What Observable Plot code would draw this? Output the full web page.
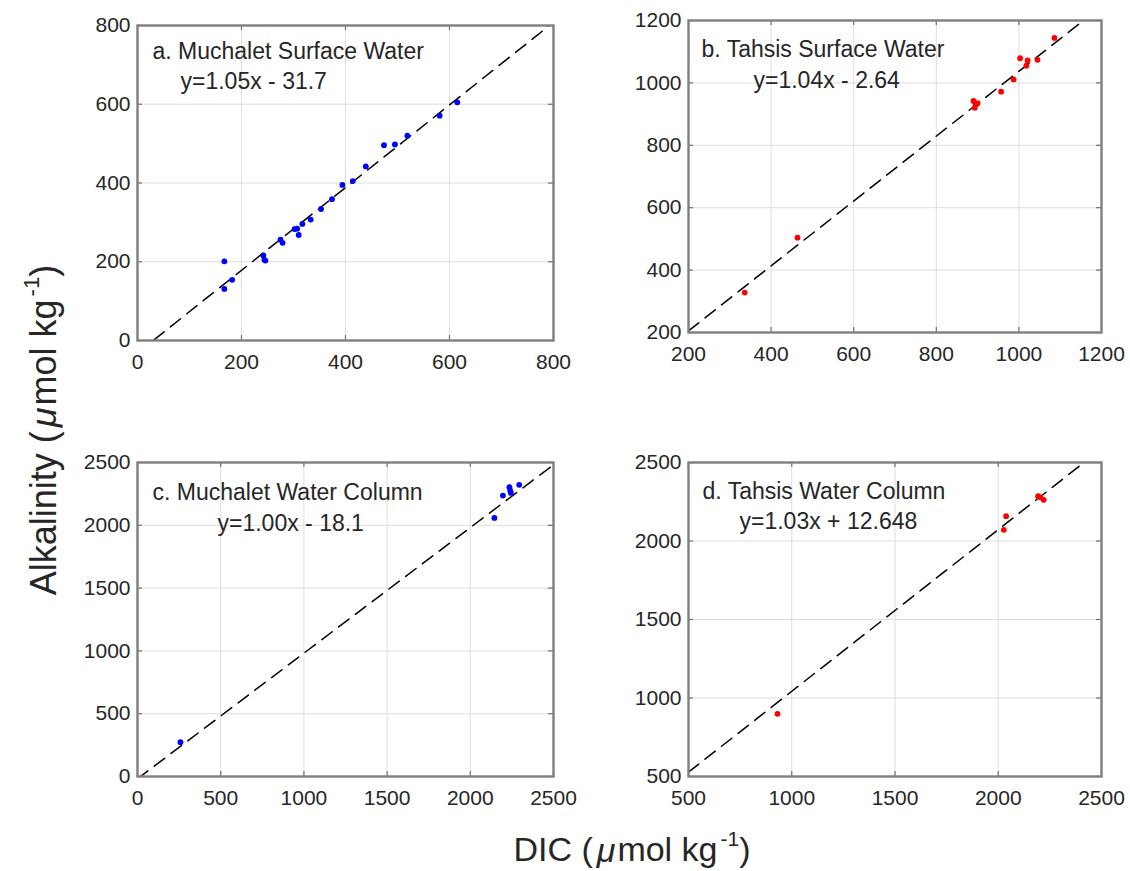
<!DOCTYPE html>
<html>
<head>
<meta charset="utf-8">
<script src="https://cdn.jsdelivr.net/npm/d3@7"></script>
<script src="https://cdn.jsdelivr.net/npm/@observablehq/plot@0.6"></script>
<style>
  html, body { margin: 0; padding: 0; background: #fff; }
  #page { position: relative; width: 1130px; height: 871px; font-family: "Liberation Sans", Arial, Helvetica, sans-serif; color: #262626; }
  .panel { position: absolute; }
  .ylab { position: absolute; left: 42px; top: 430px; transform: translate(-50%, -50%) rotate(-90deg); white-space: nowrap; font-size: 36px; }
  .xlab { position: absolute; left: 632px; top: 848px; transform: translate(-50%, -50%); white-space: nowrap; font-size: 34px; }
  .mu { font-style: italic; margin: 0 2px 0 4px; }
  sup { font-size: 0.62em; vertical-align: 0.75em; margin-left: 3px; }
</style>
</head>
<body>
<div id="page">
  <div class="ylab">Alkalinity (<span class="mu">μ</span>mol kg<sup>-1</sup>)</div>
  <div class="xlab">DIC (<span class="mu">μ</span>mol kg<sup>-1</sup>)</div>
</div>
<script>
// ---- data ----
const dicA = [167, 167, 182, 242, 244, 246, 275, 279, 302, 307, 310, 317, 333, 353, 374, 394, 414, 439, 474, 495, 519, 581, 615];
const alkA = [201, 131, 154, 216, 205, 203, 256, 248, 283, 284, 268, 296, 307, 334, 359, 395, 405, 442, 496, 498, 520, 571, 605];

const dicB = [336, 464, 890, 895, 893, 900, 957, 987, 1003, 1018, 1021, 1045, 1086];
const alkB = [328, 504, 942, 930, 920, 935, 972, 1011, 1079, 1055, 1072, 1074, 1144];

const dicC = [258, 2145, 2196, 2235, 2240, 2244, 2294];
const alkC = [273, 2059, 2237, 2303, 2275, 2258, 2322];

const dicD = [931, 2027, 2038, 2193, 2205, 2220];
const alkD = [899, 2071, 2158, 2285, 2278, 2262];

const fitSlope = [1.05, 1.04, 1.00, 1.03];
const fitIntercept = [-31.7, -2.64, -18.1, 12.648];

const panelTitles = ["a. Muchalet Surface Water", "b. Tahsis Surface Water", "c. Muchalet Water Column", "d. Tahsis Water Column"];
const equationLabels = ["y=1.05x - 31.7", "y=1.04x - 2.64", "y=1.00x - 18.1", "y=1.03x + 12.648"];

const ticksA = [0, 200, 400, 600, 800];
const ticksB = [200, 400, 600, 800, 1000, 1200];
const ticksC = [0, 500, 1000, 1500, 2000, 2500];
const ticksD = [500, 1000, 1500, 2000, 2500];

const seriesColors = ["#0000ff", "#ff0000", "#0000ff", "#ff0000"];

// ---- layout ----
const frames = [
  {x0: 137, x1: 553, y0: 25, y1: 340, tdx: 15, tdy: 17, edx: 43, edy: 47},
  {x0: 688, x1: 1101, y0: 20, y1: 332, tdx: 13, tdy: 20, edx: 65, edy: 51},
  {x0: 137, x1: 553, y0: 462, y1: 776, tdx: 15, tdy: 21, edx: 80, edy: 52},
  {x0: 688, x1: 1101, y0: 462, y1: 776, tdx: 14, tdy: 20, edx: 51, edy: 50}
];
const ML = 70, MT = 20, MR = 20, MB = 45;

function makePanel(i, dic, alk, ticks) {
  const f = frames[i];
  const fw = f.x1 - f.x0, fh = f.y1 - f.y0;
  const dom = [ticks[0], ticks[ticks.length - 1]];
  const pts = dic.map((d, k) => ({dic: d, alk: alk[k]}));
  const fit = dom.map(x => ({x, y: fitSlope[i] * x + fitIntercept[i]}));
  const txt = "#262626";
  const chart = Plot.plot({
    width: fw + ML + MR,
    height: fh + MT + MB,
    marginLeft: ML, marginTop: MT, marginRight: MR, marginBottom: MB,
    style: {fontFamily: '"Liberation Sans", Arial, Helvetica, sans-serif', fontSize: "21px", color: txt, background: "transparent", overflow: "visible"},
    x: {domain: dom},
    y: {domain: dom},
    marks: [
      Plot.gridX(ticks, {stroke: "#dedede", strokeOpacity: 1, strokeWidth: 1}),
      Plot.gridY(ticks, {stroke: "#dedede", strokeOpacity: 1, strokeWidth: 1}),
      Plot.line(fit, {x: "x", y: "y", stroke: "#000", strokeWidth: 1.5, strokeDasharray: "13,8", clip: true}),
      Plot.dot(pts, {x: "dic", y: "alk", r: 2.9, fill: seriesColors[i], stroke: "none"}),
      Plot.tickX(ticks, {x: d => d, stroke: "#6e6e6e", strokeWidth: 1.2, insetTop: fh - 5}),
      Plot.tickX(ticks, {x: d => d, stroke: "#6e6e6e", strokeWidth: 1.2, insetBottom: fh - 5}),
      Plot.tickY(ticks, {y: d => d, stroke: "#6e6e6e", strokeWidth: 1.2, insetRight: fw - 5}),
      Plot.tickY(ticks, {y: d => d, stroke: "#6e6e6e", strokeWidth: 1.2, insetLeft: fw - 5}),
      Plot.frame({stroke: "#7f7f7f", strokeWidth: 2.4}),
      Plot.axisX(ticks, {anchor: "bottom", tickSize: 0, tickPadding: 14, fill: txt, fontSize: 21, tickFormat: d => String(d), label: null}),
      Plot.axisY(ticks, {anchor: "left", tickSize: 0, tickPadding: 7, fill: txt, fontSize: 21, tickFormat: d => String(d), label: null}),
      Plot.text([panelTitles[i]], {text: d => d, frameAnchor: "top-left", lineAnchor: "top", textAnchor: "start", dx: f.tdx, dy: f.tdy, fontSize: 23, fill: txt}),
      Plot.text([equationLabels[i]], {text: d => d, frameAnchor: "top-left", lineAnchor: "top", textAnchor: "start", dx: f.edx, dy: f.edy, fontSize: 23, fill: txt})
    ]
  });
  const wrap = document.createElement("div");
  wrap.className = "panel";
  wrap.style.left = (f.x0 - ML) + "px";
  wrap.style.top = (f.y0 - MT) + "px";
  wrap.appendChild(chart);
  document.getElementById("page").appendChild(wrap);
}

makePanel(0, dicA, alkA, ticksA);
makePanel(1, dicB, alkB, ticksB);
makePanel(2, dicC, alkC, ticksC);
makePanel(3, dicD, alkD, ticksD);
</script>
</body>
</html>
